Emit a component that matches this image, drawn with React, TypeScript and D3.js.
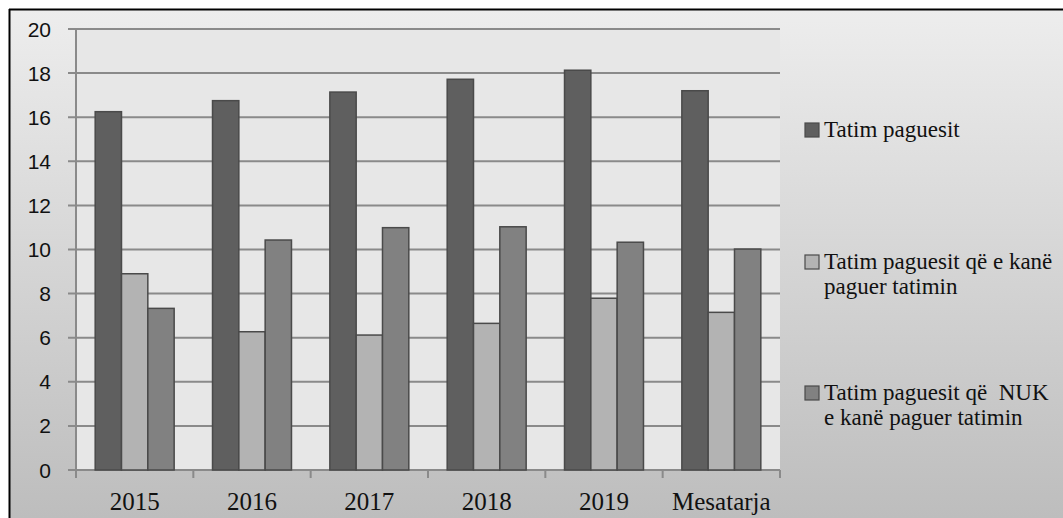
import React from "react";
import * as d3 from "d3";

const categories = ["2015", "2016", "2017", "2018", "2019", "Mesatarja"];
const seriesNames = ["Tatim paguesit", "Tatim paguesit që e kanë paguer tatimin", "Tatim paguesit që  NUK e kanë paguer tatimin"];
const taxpayers = [16.25, 16.75, 17.14, 17.72, 18.13, 17.2];
const paid = [8.9, 6.27, 6.12, 6.65, 7.79, 7.15];
const notPaid = [7.33, 10.43, 10.99, 11.03, 10.33, 10.02];
const yTicks = [0, 2, 4, 6, 8, 10, 12, 14, 16, 18, 20];
const legendLines = [["Tatim paguesit"], ["Tatim paguesit që e kanë", "paguer tatimin"], ["Tatim paguesit që  NUK", "e kanë paguer tatimin"]];

const W = 1063;
const H = 518;
const colors = ["#5f5f5f", "#b3b3b3", "#818181"];

export default function App() {
  const series = [taxpayers, paid, notPaid];
  const x0 = d3.scaleBand<string>().domain(categories).range([76, 780]).paddingInner(0.327).paddingOuter(0.1635);
  const x1 = d3.scaleBand<number>().domain([0, 1, 2]).range([0, x0.bandwidth()]);
  const y = d3.scaleLinear().domain([0, 20]).range([470, 29]);
  const step = x0.step();
  const slotEdges = d3.range(categories.length + 1).map((i) => 76 + i * step);
  const legendY = [123, 255, 386];

  return (
    <svg width={W} height={H} style={{ position: "absolute", left: 0, top: 0 }} xmlns="http://www.w3.org/2000/svg">
      <defs>
        <linearGradient id="bg" x1="0" y1="0" x2="0" y2="1">
          <stop offset="0" stopColor="#ededed" />
          <stop offset="1" stopColor="#bdbdbd" />
        </linearGradient>
      </defs>
      <rect x={0} y={0} width={W} height={H} fill="#ffffff" />
      <rect x={10} y={10} width={W - 10} height={H - 10} fill="url(#bg)" />
      <line x1={9.5} y1={9} x2={9.5} y2={H} stroke="#000" strokeWidth={2} />
      <line x1={9} y1={9.5} x2={W} y2={9.5} stroke="#000" strokeWidth={2} />
      <rect x={76} y={29} width={704} height={441} fill="#e7e7e7" />
      {yTicks.map((t) => (
        <line key={t} x1={68} x2={780} y1={y(t)} y2={y(t)} stroke="#8a8a8a" strokeWidth={2} />
      ))}
      <line x1={76} x2={76} y1={29} y2={478} stroke="#8a8a8a" strokeWidth={2} />
      {slotEdges.map((e, i) => (
        <line key={i} x1={e} x2={e} y1={470} y2={478} stroke="#8a8a8a" strokeWidth={2} />
      ))}
      {categories.map((c, ci) => (
        <g key={c} transform={`translate(${x0(c)},0)`}>
          {series.map((s, si) => (
            <rect
              key={si}
              x={x1(si)}
              y={y(s[ci])}
              width={x1.bandwidth()}
              height={y(0) - y(s[ci])}
              fill={colors[si]}
              stroke="#4a4a4a"
              strokeWidth={1.5}
            />
          ))}
        </g>
      ))}
      {yTicks.map((t) => (
        <text key={t} x={51} y={y(t)} dy="0.36em" textAnchor="end" fontFamily="'Liberation Sans', Arial, sans-serif" fontSize={21} fill="#111">
          {t}
        </text>
      ))}
      {categories.map((c) => (
        <text key={c} x={(x0(c) as number) + x0.bandwidth() / 2} y={510} textAnchor="middle" fontFamily="'Liberation Serif', 'Times New Roman', serif" fontSize={25} fill="#111">
          {c}
        </text>
      ))}
      {seriesNames.map((n, i) => (
        <g key={n}>
          <rect x={805} y={legendY[i]} width={14} height={14} fill={colors[i]} stroke="#4a4a4a" strokeWidth={1.2} />
          {legendLines[i].map((ln, li) => (
            <text key={li} x={824} y={legendY[i] + 14 + li * 25} fontFamily="'Liberation Serif', 'Times New Roman', serif" fontSize={23} fill="#111" style={{ whiteSpace: "pre" }}>
              {ln}
            </text>
          ))}
        </g>
      ))}
    </svg>
  );
}
